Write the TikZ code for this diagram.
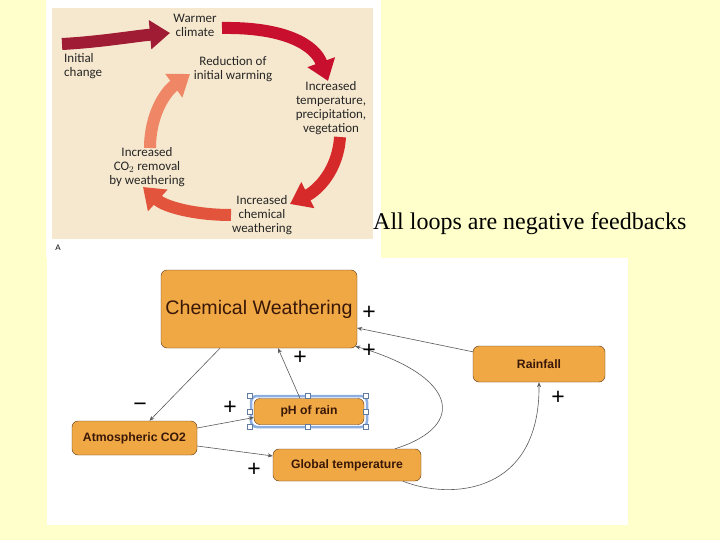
\documentclass[tikz,border=0pt]{standalone}
\usepackage{fontspec}
\setmainfont{Liberation Serif}
\setsansfont{Liberation Sans}
\newfontfamily\libro{Carlito}
\usetikzlibrary{arrows.meta}

\definecolor{fondo}{HTML}{FFFFCC}
\definecolor{beige}{HTML}{F6E8CE}
\definecolor{naranja}{HTML}{F0A845}
\definecolor{cajaborde}{HTML}{5A3210}
\definecolor{textocaja}{HTML}{3A1808}
\definecolor{gris}{HTML}{5A5A5A}
\definecolor{seleccion}{HTML}{8CAEE0}
\definecolor{textociclo}{HTML}{262626}
\definecolor{rojoA}{HTML}{A01B34}
\definecolor{rojoB}{HTML}{C8102E}
\definecolor{rojoC}{HTML}{D62A2A}
\definecolor{rojoD}{HTML}{E2553C}
\definecolor{rojoE}{HTML}{EF8666}

\begin{document}
\begin{tikzpicture}[x=1pt, y=-1pt,
    caja/.style={draw=cajaborde, fill=naranja, rounded corners=6pt, inner sep=0pt, text=textocaja, font=\sffamily\bfseries\fontsize{12.2}{14}\selectfont},
    flecha/.style={draw=gris, line width=0.6pt, -{Stealth[length=5pt,width=4pt]}},
    signo/.style={font=\sffamily\fontsize{23}{23}\selectfont, inner sep=0pt},
    ciclo/.style={line width=12pt, -{Triangle[width=28pt 0,length=20pt 0]}},
    rotulo/.style={font=\libro\fontsize{13}{14}\selectfont, text=textociclo, align=center, inner sep=0pt},
    asa/.style={draw=seleccion!70!black, fill=white, line width=0.4pt}]

        % Fondo y paneles blancos
        \useasboundingbox (0,0) rectangle (720,540);
        \fill[fondo] (0,0) rectangle (720,540);
        \fill[white] (46,0) rectangle (381,258);
        \fill[white] (47,258) rectangle (628,525);
        \fill[beige] (52,8) rectangle (373,239);
        \node[font=\sffamily\fontsize{8}{9}\selectfont, inner sep=0pt] (letraA) at (58,248) {A};

        % Ciclo de la figura superior
        \node[rotulo] (calido) at (195,25.5) {Warmer\\climate};
        \node[rotulo, anchor=west, align=left] (inicial) at (64,66.5) {Initial\\change};
        \node[rotulo] (reduccion) at (233,69) {Reduction of\\initial warming};
        \node[rotulo] (temperatura) at (331,108) {Increased\\temperature,\\precipitation,\\vegetation};
        \node[rotulo] (quimica) at (262,215) {Increased\\chemical\\weathering};
        \node[rotulo] (remocion) at (147,167) {Increased\\CO$_2$ removal\\by weathering};

        \draw[ciclo, rojoA] (62,44) .. controls (100,42) and (135,36) .. (170,33);
        \draw[ciclo, rojoB] (222,28) .. controls (285,27) and (315,45) .. (328,81);
        \draw[ciclo, rojoC] (340,137) .. controls (338,170) and (318,190) .. (290,204);
        \draw[ciclo, rojoD] (231,215) .. controls (195,215) and (165,207) .. (143,187);
        \draw[ciclo, rojoE] (150,148) .. controls (150,115) and (165,92) .. (190,74);

        \node[font=\fontsize{24}{27}\selectfont, anchor=west, inner sep=0pt] (lema) at (373,224) {All loops are negative feedbacks};

        % Cajas del diagrama causal
        \node[caja, minimum width=196pt, minimum height=78pt, font=\sffamily\fontsize{19.6}{22}\selectfont] (CW) at (259,309) {Chemical Weathering};
        \node[caja, minimum width=132pt, minimum height=36pt] (Rain) at (539,364) {Rainfall};
        \draw[seleccion, line width=2.5pt, rounded corners=6pt] (251,396) rectangle (367,427);
        \node[caja, minimum width=110pt, minimum height=26pt] (pH) at (309,411.5) {pH of rain};
        \node[caja, minimum width=125pt, minimum height=34pt] (CO2) at (134.5,438) {Atmospheric CO2};
        \node[caja, minimum width=148pt, minimum height=32pt] (GT) at (347,465) {Global temperature};

        % Asas de seleccion
        \foreach \x/\y in {250/396, 308/396, 366/396, 250/412, 366/412, 250/427, 308/427, 366/427}
            \draw[asa] (\x-2.5,\y-2.5) rectangle (\x+2.5,\y+2.5);

        % Conexiones
        \draw[flecha] ([xshift=-39pt]CW.south) -- ([xshift=15pt]CO2.north);
        \draw[flecha] ([yshift=10pt]CO2.east) -- ([yshift=-6pt]pH.west);
        \draw[flecha] ([yshift=-8pt]CO2.east) -- ([yshift=9pt]GT.west);
        \draw[flecha] ([xshift=-9pt]pH.north) -- ([xshift=19pt]CW.south);
        \draw[flecha] ([yshift=-6pt]Rain.north west) -- ([yshift=-19pt]CW.east);
        \draw[flecha] ([xshift=48pt]GT.north) .. controls (470,425) and (455,375) .. ([xshift=-2pt,yshift=2pt]CW.south east);
        \draw[flecha] ([xshift=56pt]GT.south) .. controls (450,500) and (540,495) .. (Rain.south);

        % Signos
        \node[signo] (s1) at (369,313) {+};
        \node[signo] (s2) at (369,351) {+};
        \node[signo] (s3) at (300,358) {+};
        \node[signo] (s4) at (230,408) {+};
        \node[signo] (s5) at (140,407) {−};
        \node[signo] (s6) at (254,470) {+};
        \node[signo] (s7) at (558,398) {+};

    \end{tikzpicture}
\end{document}
